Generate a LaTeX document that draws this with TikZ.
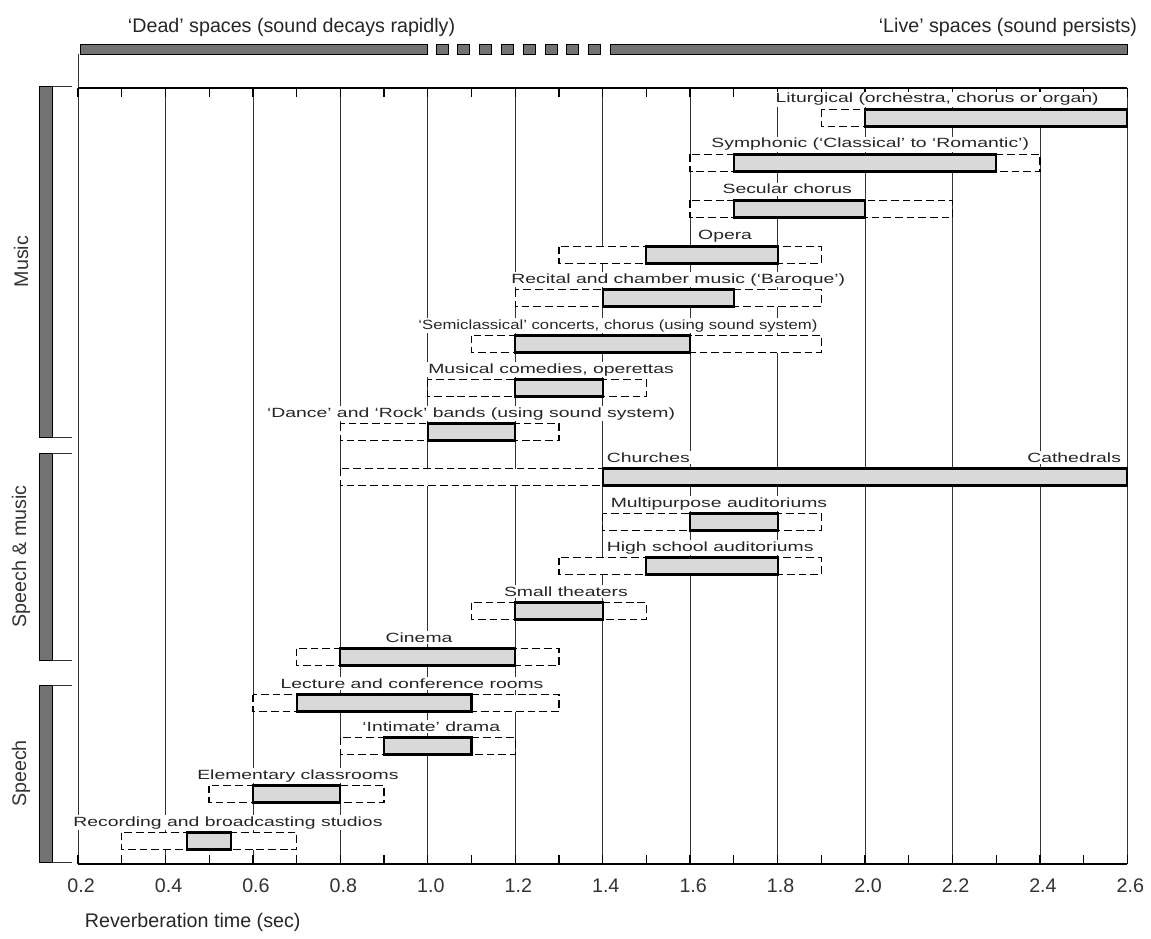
\documentclass[tikz,border=0pt]{standalone}
\usepackage{fontspec}
\setmainfont{Liberation Sans}
\newfontfamily\leroy[Ligatures=TeX, FakeStretch=1.45]{Liberation Sans}
\newfontfamily\leroynarrow[Ligatures=TeX, FakeStretch=1.25]{Liberation Sans}
\tikzset{
  gridline/.style={line width=.5pt, black!80},
  axisline/.style={line width=.9pt},
  rangebox/.style={draw, dash pattern=on 5.5pt off 2.8pt, line width=1pt, fill=white},
  corebar/.style={draw, line width=1.5pt, fill=black!15},
  groupbar/.style={draw, line width=.6pt, fill=black!55},
  rowlabel/.style={fill=white, inner sep=1.2pt, text=black!85, font=\leroy\fontsize{9.5}{11}\selectfont},
  narrowlabel/.style={rowlabel, font=\leroynarrow\fontsize{9.5}{11}\selectfont},
  ticklabel/.style={text=black!80, font=\fontsize{14}{16}\selectfont},
  grouplabel/.style={rotate=90, text=black!80, font=\fontsize{14}{16}\selectfont},
  toplabel/.style={text=black!85, font=\fontsize{14}{16}\selectfont},
}
\begin{document}
\begin{tikzpicture}[x=.025cm, y=-.025cm]
\useasboundingbox (0,0) rectangle (1151,939);

% dead / live
\filldraw[groupbar] (80,44) rectangle (427,54);
\foreach \k in {0,...,7}
  \filldraw[groupbar] (436+21.8*\k,44) rectangle ++(12,10);
\filldraw[groupbar] (610,44) rectangle (1127,54);
\draw[gridline] (78,54) -- (78,88);
\node[toplabel, anchor=base west] (dead) at (123,33) {`Dead' spaces (sound decays rapidly)};
\node[toplabel, anchor=base east] (live) at (1142,33) {`Live' spaces (sound persists)};

% groups
\foreach \top/\bot/\txt [count=\g] in {86/437/Music, 453/660/Speech \& music, 685/862/Speech}{
  \filldraw[groupbar] (39,\top) rectangle (52,\bot);
  \draw[gridline] (52,\top) -- (72,\top);
  \draw[gridline] (52,\bot) -- (72,\bot);
  \node[grouplabel] (group\g) at (21,{(\top+\bot)/2}) {\txt};
}

\node[toplabel, anchor=base west] (xtitle) at (80,927) {Reverberation time (sec)};

\begin{scope}[x=10.9275cm, xshift=-.2355cm]
  \foreach \t in {0.2,0.4,...,2.6}
    \draw[gridline] (\t,88) -- (\t,864);
  \draw[axisline] (0.2,88) -- (2.6,88);
  \draw[axisline] (0.2,864) -- (2.6,864);
  \foreach \n in {2,...,26}{
    \draw[axisline] (\n/10,88) -- ++(0,9);
    \draw[axisline] (\n/10,864) -- ++(0,-9);
  }
  \foreach \t [count=\n] in {0.2,0.4,0.6,0.8,1.0,1.2,1.4,1.6,1.8,2.0,2.2,2.4,2.6}
    \node[ticklabel, anchor=base] (tl\n) at (\t+.007,892) {\t};

  \foreach \y/\a/\b/\c/\d/\lx/\sty/\txt [count=\i] in {
    118/1.9/2.0/2.6/2.6/2.165/rowlabel/{Liturgical (orchestra, chorus or organ)},
    163/1.6/1.7/2.3/2.4/2.012/rowlabel/{Symphonic (`Classical' to `Romantic')},
    209/1.6/1.7/2.0/2.2/1.822/rowlabel/{Secular chorus},
    255/1.3/1.5/1.8/1.9/1.680/rowlabel/{Opera},
    298/1.2/1.4/1.7/1.9/1.573/rowlabel/{Recital and chamber music (`Baroque')},
    344/1.1/1.2/1.6/1.9/1.435/narrowlabel/{`Semiclassical' concerts, chorus (using sound system)},
    388/1.0/1.2/1.4/1.5/1.282/rowlabel/{Musical comedies, operettas},
    432/0.8/1.0/1.2/1.3/1.099/rowlabel/{`Dance' and `Rock' bands (using sound system)},
    522/1.4/1.6/1.8/1.9/1.666/rowlabel/{Multipurpose auditoriums},
    566/1.3/1.5/1.8/1.9/1.646/rowlabel/{High school auditoriums},
    611/1.1/1.2/1.4/1.5/1.316/rowlabel/{Small theaters},
    657/0.7/0.8/1.2/1.3/0.980/rowlabel/{Cinema},
    703/0.6/0.7/1.1/1.3/0.964/rowlabel/{Lecture and conference rooms},
    746/0.8/0.9/1.1/1.2/1.008/rowlabel/{`Intimate' drama},
    794/0.5/0.6/0.8/0.9/0.703/rowlabel/{Elementary classrooms},
    841/0.3/0.45/0.55/0.7/0.543/rowlabel/{Recording and broadcasting studios}}{
    \draw[rangebox] (\a,\y-8.5) rectangle (\d,\y+8.5);
    \draw[corebar] (\b,\y-8.5) rectangle (\c,\y+8.5);
    \node[\sty, anchor=base] (room\i) at (\lx,\y-15) {\txt};
  }
  % churches to cathedrals
  \draw[rangebox] (0.8,468.5) rectangle (2.6,485.5);
  \draw[corebar] (1.4,468.5) rectangle (2.6,485.5);
  \node[rowlabel, anchor=base west] (churches) at (1.405,462) {Churches};
  \node[rowlabel, anchor=base east] (cathedrals) at (2.59,462) {Cathedrals};
\end{scope}
\end{tikzpicture}
\end{document}
